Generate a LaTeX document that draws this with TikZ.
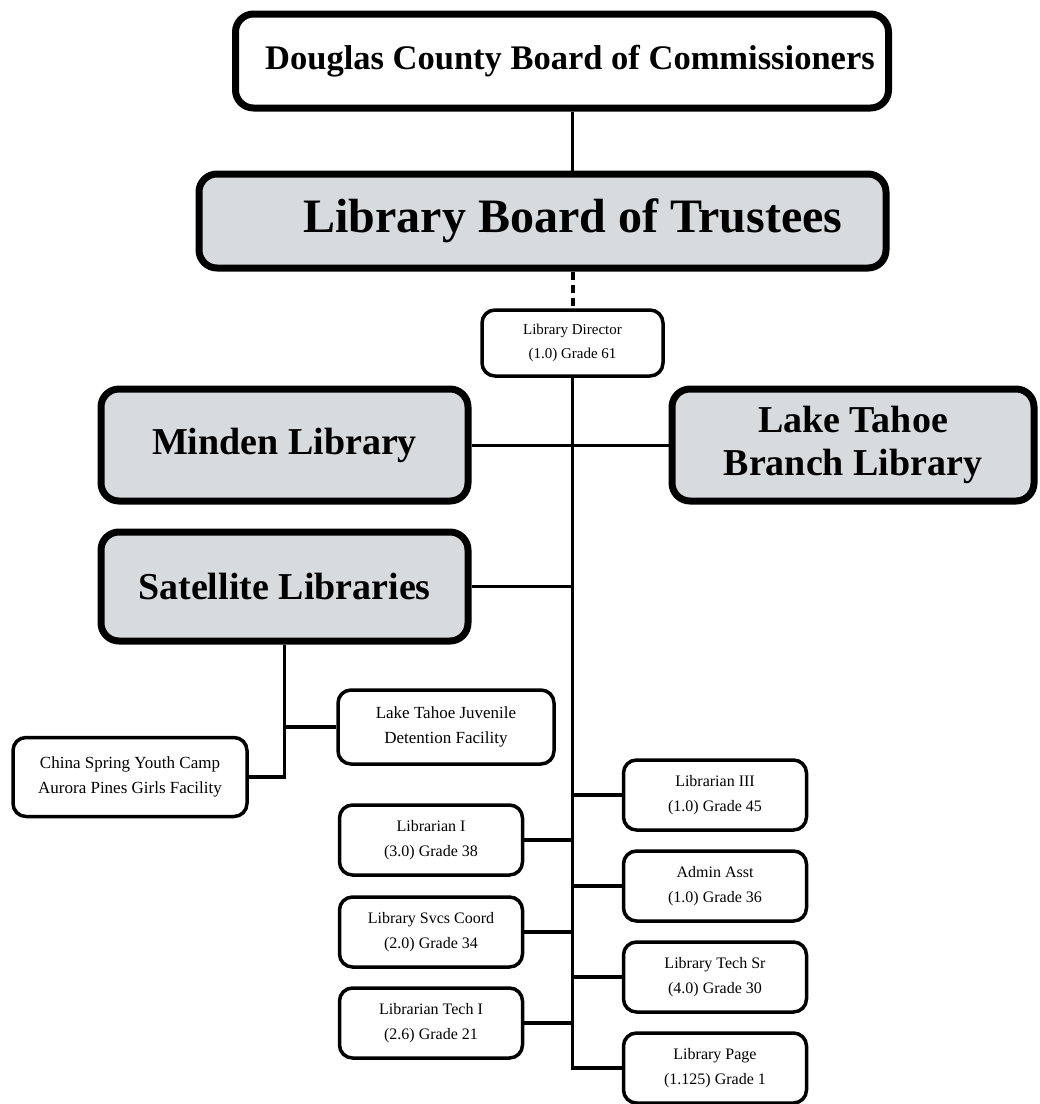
\documentclass[tikz,border=0pt]{standalone}
\usepackage{fontspec}
\setmainfont{Liberation Serif}
\usetikzlibrary{positioning}
\definecolor{boxgray}{RGB}{216,219,222}

\begin{document}
\begin{tikzpicture}[
  x=1pt,y=-1pt,
  board/.style={draw, line width=7pt, rounded corners=18pt, align=center, inner sep=0pt, font=\bfseries},
  unit/.style={board, fill=boxgray, minimum width=367pt, minimum height=112pt, font=\bfseries\fontsize{38}{43}\selectfont},
  post/.style={draw, line width=3.5pt, rounded corners=13pt, align=center, inner sep=0pt, minimum width=183pt, minimum height=70pt, font=\fontsize{16}{25}\selectfont},
  site/.style={post, font=\fontsize{17}{25}\selectfont},
  link/.style={line width=3.5pt},
  thinlink/.style={line width=2.5pt}
]
\useasboundingbox (0,0) rectangle (1040,1104);

\node[board, minimum width=653pt, minimum height=94pt, font=\bfseries\fontsize{34.5}{40}\selectfont] (dc) at (562,61) {\hspace*{16pt}Douglas County Board of Commissioners};
\node[board, fill=boxgray, minimum width=687pt, minimum height=94pt, font=\bfseries\fontsize{48}{52}\selectfont] (lbt) at (542.5,221) {\hspace*{61pt}Library Board of Trustees};
\node[post, minimum width=181pt, minimum height=66pt, font=\fontsize{15}{24}\selectfont] (dir) at (572.5,343) {Library Director\\(1.0) Grade 61};

\node[unit] (min) at (284.5,445) {Minden Library};
\node[unit, minimum width=362pt] (lt) at (853,445) {Lake Tahoe\\Branch Library};
\node[unit, minimum height=109pt] (sat) at (284.5,586.5) {Satellite Libraries};

% satellite sites
\node[site, minimum width=216pt, minimum height=74pt] (juv) at (446,727) {Lake Tahoe Juvenile\\Detention Facility};
\node[site, minimum width=234pt, minimum height=79pt] (csy) at (130,777) {China Spring Youth Camp\\Aurora Pines Girls Facility};

% staff positions
\node[post] (lib3) at (715,795) {Librarian III\\(1.0) Grade 45};
\node[post] (adm) at (715,886) {Admin Asst\\(1.0) Grade 36};
\node[post] (tsr) at (715,977) {Library Tech Sr\\(4.0) Grade 30};
\node[post] (pg) at (715,1068) {Library Page\\(1.125) Grade 1};
\node[post] (lib1) at (431,840) {Librarian I\\(3.0) Grade 38};
\node[post] (svc) at (431,932) {Library Svcs Coord\\(2.0) Grade 34};
\node[post] (tch) at (431,1023) {Librarian Tech I\\(2.6) Grade 21};

\draw[thinlink] (dc.south -| dir.north) -- (lbt.north -| dir.north);
\draw[line width=4pt, dash pattern=on 8pt off 5pt] (lbt.south -| dir.north) -- (dir.north);
\draw[thinlink] (dir.south) -- (dir.south |- sat.east);
\draw[line width=3pt] (min.east) -- (lt.west);
\draw[link] (sat.east) -- (sat.east -| dir.south);
\draw[link] (dir.south |- sat.east) |- (pg.west);
\foreach \n in {lib3,adm,tsr,lib1,svc,tch}
  \draw[link] (\n.west -| dir.south) -- (\n);
\draw[link] (sat.south) |- (csy.east);
\draw[link] (sat.south |- juv.west) -- (juv.west);
\end{tikzpicture}
\end{document}
